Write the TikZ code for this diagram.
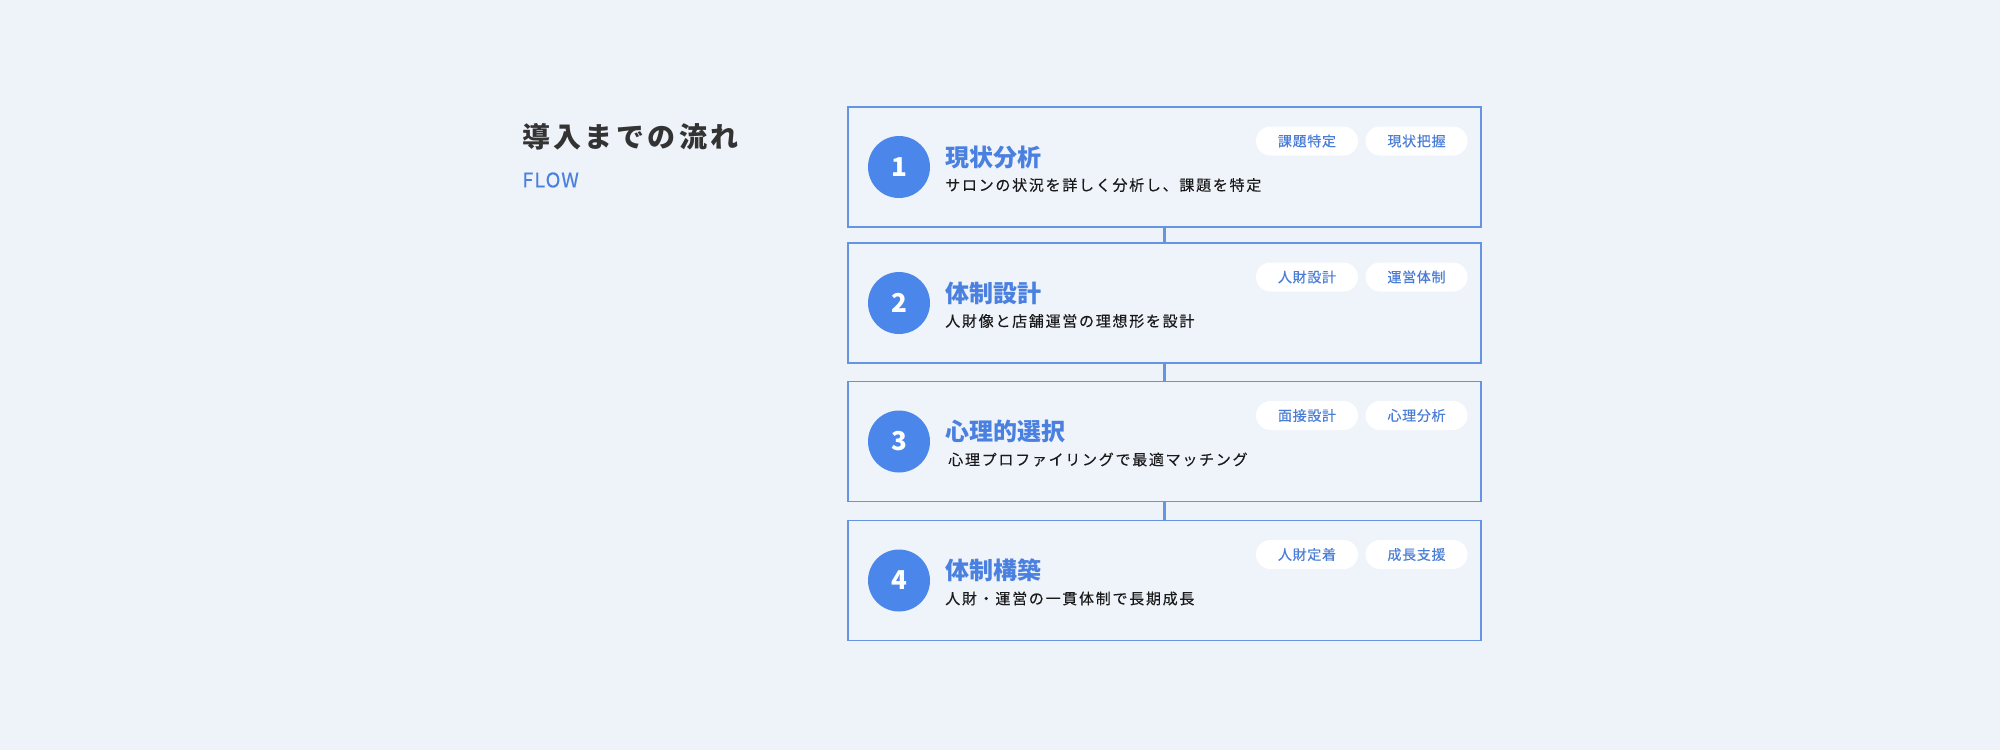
\documentclass[tikz,border=0pt]{standalone}
\usepackage{fontspec}
\setmainfont{Noto Sans CJK JP}
\newfontfamily\jpsub{Noto Sans CJK JP}[LetterSpace=11.5, FakeBold=0.25]
\newfontfamily\jphead{Noto Sans CJK JP}[LetterSpace=12]
\newfontfamily\jppill{Noto Sans CJK JP}[LetterSpace=5, FakeBold=0.35]
\newfontfamily\jpflow{Noto Sans CJK JP}[LetterSpace=5, FakeBold=0.35]
\definecolor{bg}{HTML}{EEF2F9}
\definecolor{boxfill}{HTML}{EFF3FA}
\definecolor{border}{HTML}{6494E2}
\definecolor{circ}{HTML}{4B86EA}
\definecolor{ttl}{HTML}{4A80E0}
\definecolor{pilltxt}{HTML}{4A7DD6}
\definecolor{head}{HTML}{333333}
\definecolor{sub}{HTML}{1A1A1A}
\tikzset{
  stepbox/.style={draw=border, line width=1.1pt, fill=boxfill, rectangle, inner sep=0pt,
    minimum width=474.75pt, minimum height=90pt},
  numcirc/.style={circle, fill=circ, text=white, inner sep=0pt, minimum size=46.5pt,
    font=\bfseries\fontsize{19.5pt}{20pt}\selectfont},
  pill/.style={rectangle, rounded corners=10.875pt, fill=white, inner sep=0pt,
    minimum width=76.5pt, minimum height=21.75pt, text=pilltxt,
    font=\jppill\fontsize{10.5pt}{11pt}\selectfont},
  ttltxt/.style={anchor=west, inner sep=0pt, text=ttl, font=\bfseries\fontsize{18pt}{19pt}\selectfont},
  subtxt/.style={anchor=west, inner sep=0pt, text=sub, font=\jpsub\fontsize{11.25pt}{12pt}\selectfont},
  conn/.style={draw=border, line width=2.25pt},
}
\begin{document}
\begin{tikzpicture}[x=0.75pt, y=-0.75pt]
\useasboundingbox (0,0) rectangle (2000,750);
\fill[bg] (0,0) rectangle (2000,750);
\node[anchor=west, inner sep=0pt, text=head, font=\jphead\bfseries\fontsize{21pt}{22pt}\selectfont] (heading) at (522,137) {導入までの流れ};
\node[anchor=west, inner sep=0pt, text=ttl, font=\jpflow\fontsize{15pt}{16pt}\selectfont] (flow) at (522,180) {FLOW};
% boxes
\node[stepbox] (b1) at (1164.5,167) {};
\node[stepbox] (b2) at (1164.5,303) {};
\node[stepbox] (b3) at (1164.5,441.5) {};
\node[stepbox] (b4) at (1164.5,580.5) {};
\draw[conn] (b1.south) -- (b2.north);
\draw[conn] (b2.south) -- (b3.north);
\draw[conn] (b3.south) -- (b4.north);
% step 1
\node[numcirc] (n1) at (899,167) {1};
\node[ttltxt] (t1) at (945,157) {現状分析};
\node[subtxt] (s1) at (945,185) {サロンの状況を詳しく分析し、課題を特定};
\node[pill] (p1a) at (1307,141) {課題特定};
\node[pill] (p1b) at (1416.5,141) {現状把握};
% step 2
\node[numcirc] (n2) at (899,303) {2};
\node[ttltxt] (t2) at (945,293) {体制設計};
\node[subtxt] (s2) at (945,321) {人財像と店舗運営の理想形を設計};
\node[pill] (p2a) at (1307,277) {人財設計};
\node[pill] (p2b) at (1416.5,277) {運営体制};
% step 3
\node[numcirc] (n3) at (899,441.5) {3};
\node[ttltxt] (t3) at (945,431.5) {心理的選択};
\node[subtxt] (s3) at (948,459.5) {心理プロファイリングで最適マッチング};
\node[pill] (p3a) at (1307,415.5) {面接設計};
\node[pill] (p3b) at (1416.5,415.5) {心理分析};
% step 4
\node[numcirc] (n4) at (899,580.5) {4};
\node[ttltxt] (t4) at (945,570.5) {体制構築};
\node[subtxt] (s4) at (945,598.5) {人財・運営の一貫体制で長期成長};
\node[pill] (p4a) at (1307,554.5) {人財定着};
\node[pill] (p4b) at (1416.5,554.5) {成長支援};
\end{tikzpicture}
\end{document}
